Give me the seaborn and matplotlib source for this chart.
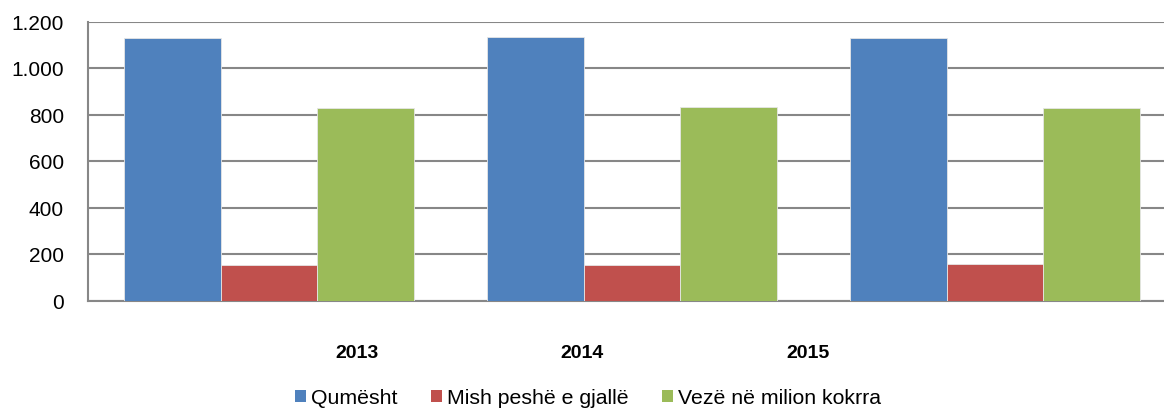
import pandas as pd
import matplotlib
matplotlib.use("Agg")
import matplotlib.pyplot as plt
import seaborn as sns
from matplotlib.patches import Patch
from matplotlib.ticker import FuncFormatter

vitet = ["2013", "2014", "2015"]
seritë = ["Qumësht", "Mish peshë e gjallë", "Vezë në milion kokrra"]
qumesht = [1128, 1132, 1129]
mish = [151, 153, 156]
veze = [826, 833, 827]
ngjyrat = ["#4F81BD", "#C0504D", "#9BBB59"]

rows = []
for i, v in enumerate(vitet):
    rows.append({"Viti": v, "Seria": seritë[0], "Vlera": qumesht[i]})
    rows.append({"Viti": v, "Seria": seritë[1], "Vlera": mish[i]})
    rows.append({"Viti": v, "Seria": seritë[2], "Vlera": veze[i]})
df = pd.DataFrame(rows)

sns.set_style("white")
plt.rcParams["font.family"] = ["Liberation Sans", "DejaVu Sans"]
plt.rcParams["text.color"] = "black"

fig = plt.figure(figsize=(11.64, 4.10), dpi=100)
ax = fig.add_axes([87.5 / 1164, 108.5 / 410, 1089 / 1164, 279 / 410])

sns.barplot(data=df, x="Viti", y="Vlera", hue="Seria", palette=ngjyrat,
            saturation=1, width=0.8, edgecolor="#e6e6e6", linewidth=0.6,
            legend=False, ax=ax, zorder=3)

ax.set_ylim(0, 1200)
ax.set_xlim(-0.5, 2.5)
ax.set_yticks(range(0, 1201, 200))
ax.yaxis.set_major_formatter(FuncFormatter(lambda v, p: f"{int(v):,}".replace(",", ".")))
ax.yaxis.grid(True, color="#878787", linewidth=1.5, zorder=0)
ax.set_axisbelow(True)
for s in ["top", "right"]:
    ax.spines[s].set_visible(False)
for s in ["left", "bottom"]:
    ax.spines[s].set_color("#878787")
    ax.spines[s].set_linewidth(1.5)
ax.tick_params(axis="y", length=0, pad=17, labelsize=15, labelcolor="black")

# etiketat e viteve (zhvendosur si ne origjinal)
poz_etiketa = [0.2424, 0.8623, 1.4848]
ax.set_xticks(poz_etiketa)
ax.set_xticklabels(vitet, fontsize=14, fontweight="bold", color="black",
                   family=["Liberation Sans Narrow", "Liberation Sans"])
ax.tick_params(axis="x", length=0, pad=31)
ax.set_xlabel("")
ax.set_ylabel("")

handles = [Patch(facecolor=c, edgecolor="none") for c in ngjyrat]
fig.legend(handles, seritë, loc="center", bbox_to_anchor=(588 / 1164, 1 - 399 / 410),
           ncol=3, frameon=False, handlelength=0.52, handleheight=0.52,
           handletextpad=0.25, columnspacing=1.55, labelcolor="black",
           prop={"family": ["Liberation Sans Narrow", "Liberation Sans"], "size": 15.3})

fig.savefig("out.png", dpi=100)
